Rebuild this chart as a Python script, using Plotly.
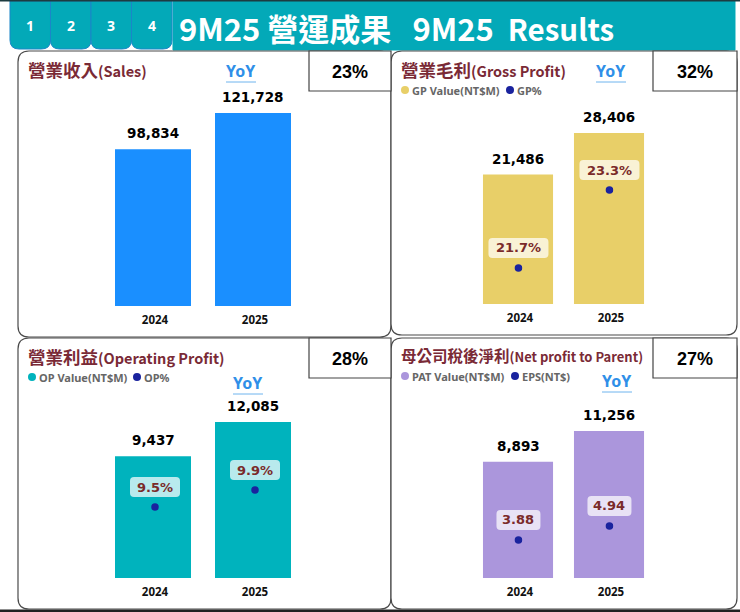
import plotly.graph_objects as go

W = 740
H = 612

years = ['2024', '2025']
sales = [98834, 121728]
gross_profit = [21486, 28406]
op_profit = [9437, 12085]
net_profit = [8893, 11256]
gp_pct = [21.7, 23.3]
op_pct = [9.5, 9.9]
eps = [3.88, 4.94]
gp_labels = ['21.7%', '23.3%']
op_labels = ['9.5%', '9.9%']
eps_labels = ['3.88', '4.94']
tabs = ['1', '2', '3', '4']
header = '9M25 營運成果&nbsp;&nbsp;&nbsp;9M25&nbsp; <span style="font-size:29.5px">Results</span>'
yoy_values = ['23%', '32%', '28%', '27%']

CJK = 'Noto Sans CJK TC'
WIDE = 'DejaVu Sans'
TEAL = '#03A9B8'
MAROON = '#7A2A36'
DOT = '#1A239E'


def px(x):
    return x / W


def py(y):
    return 1 - y / H


def plate(hw):
    # label plate, pixels around the dot
    a = hw - 4
    return (f'M{-a},10 L{a},10 Q{hw},10 {hw},14 L{hw},26 Q{hw},30 {a},30 '
            f'L{-a},30 Q{-hw},30 {-hw},26 L{-hw},14 Q{-hw},10 {-a},10 Z')


def rrect(x0, y0, x1, y1, tl=0, tr=0, br=0, bl=0):
    # rounded rect path in paper coords, arguments in window pixels
    def p(x, y):
        return f'{px(x):.5f},{py(y):.5f}'
    s = 'M' + p(x0 + tl, y0) + ' L' + p(x1 - tr, y0)
    if tr:
        s += ' Q' + p(x1, y0) + ' ' + p(x1, y0 + tr)
    s += ' L' + p(x1, y1 - br)
    if br:
        s += ' Q' + p(x1, y1) + ' ' + p(x1 - br, y1)
    s += ' L' + p(x0 + bl, y1)
    if bl:
        s += ' Q' + p(x0, y1) + ' ' + p(x0, y1 - bl)
    s += ' L' + p(x0, y0 + tl)
    if tl:
        s += ' Q' + p(x0, y0) + ' ' + p(x0 + tl, y0)
    return s + ' Z'


def box(path, fill, line, width=1, layer='below'):
    return dict(type='path', path=path, xref='paper', yref='paper', fillcolor=fill,
                line=dict(color=line, width=width), layer=layer)


def label(x, y, text, size, color, family=CJK, xanchor='center'):
    return dict(x=px(x), y=py(y), xref='paper', yref='paper', text=text, showarrow=False,
                font=dict(size=size, color=color, family=family), xanchor=xanchor, yanchor='middle',
                borderpad=0, align='left')


shapes = []
annots = []

# header + tabs
shapes.append(box(rrect(173, 1, 735, 50), TEAL, TEAL))
shapes.append(dict(type='rect', xref='paper', yref='paper', x0=0, x1=1, y0=py(1.5), y1=1,
                   fillcolor='#1d3b40', line_width=0))
for i, x0 in enumerate([10, 50.5, 91, 131.5]):
    shapes.append(box(rrect(x0, 1, x0 + 40.5, 49, 0, 0, 9, 9), TEAL, '#1c86c8'))
    annots.append(label(x0 + 20, 26, '<b>' + tabs[i] + '</b>', 14, 'white', 'Noto Sans'))
annots.append(label(178, 28, '<b>' + header + '</b>', 31, 'white', xanchor='left'))

# panel frames
shapes.append(box(rrect(18, 51, 391, 337, 11, 11, 11, 11), 'white', '#4a4a4a', 1.2))
shapes.append(box(rrect(391, 51, 737, 335, 11, 11, 11, 11), 'white', '#4a4a4a', 1.2))
shapes.append(box(rrect(18, 338, 391, 609, 11, 11, 11, 11), 'white', '#4a4a4a', 1.2))
shapes.append(box(rrect(391, 338, 737, 609, 11, 11, 11, 11), 'white', '#4a4a4a', 1.2))
shapes.append(dict(type='rect', xref='paper', yref='paper', x0=0, x1=1, y0=0, y1=py(609.5),
                   fillcolor='#222222', line_width=0))

panels = [
    dict(title='營業收入', en='(Sales)', size=17.5, en_size=14.5, tx=27, ty=69,
         values=sales, color='#1A8FFF', ymax=133000, dom=(95, 306), xdom=(103, 303), gap=0.24,
         yoy=(241, 71), yoy_box=(309, 51, 391, 91)),
    dict(title='營業毛利', en='(Gross Profit)', size=17.5, en_size=14.5, tx=400, ty=69,
         values=gross_profit, color='#E8CF68', ymax=34700, dom=(95, 304), xdom=(472.5, 654.5), gap=0.23,
         yoy=(611, 71), yoy_box=(653, 51, 737, 91),
         legend='GP Value(NT$M)', legend2='GP%', lx=(401, 506), ly=90,
         dots=gp_pct, dot_range=(20.96, 25.25), dot_labels=gp_labels, plate_hw=30, dot_shift=0.005),
    dict(title='營業利益', en='(Operating Profit)', size=17.5, en_size=14.5, tx=27, ty=356,
         values=op_profit, color='#00B3BD', ymax=13790, dom=(400, 578), xdom=(103, 303), gap=0.24,
         yoy=(248, 383), yoy_box=(309, 338, 391, 378),
         legend='OP Value(NT$M)', legend2='OP%', lx=(28, 133), ly=377,
         dots=op_pct, dot_range=(7.83, 12.02), dot_labels=op_labels, plate_hw=25, dot_shift=0.02),
    dict(title='母公司稅後淨利', en='(Net profit to Parent)', size=15.5, en_size=13, tx=400, ty=355,
         values=net_profit, color='#AB96DC', ymax=13630, dom=(400, 578), xdom=(472.5, 654.5), gap=0.23,
         yoy=(617, 381), yoy_box=(653, 338, 737, 378),
         legend='PAT Value(NT$M)', legend2='EPS(NT$)', lx=(401, 511), ly=376,
         dots=eps, dot_range=(1.0, 14.48), dot_labels=eps_labels, plate_hw=22, dot_shift=0.005),
]

fig = go.Figure()
layout_axes = {}

for i, p in enumerate(panels):
    n = i + 1
    xname = 'x' if n == 1 else f'x{n}'
    yname = 'y' if n == 1 else f'y{n}'
    fig.add_trace(go.Bar(x=years, y=p['values'], marker=dict(color=p['color'], line_width=0),
                         width=1 - p['gap'], xaxis=xname, yaxis=yname, showlegend=False))
    layout_axes[f'xaxis{n}'] = dict(domain=[px(p['xdom'][0]), px(p['xdom'][1])], type='category',
                                    anchor=yname, range=[-0.5, 1.5], showgrid=False, showline=False,
                                    ticks='', ticklabelstandoff=5, ticklabelshift=2,
                                    tickfont=dict(size=11.5, color='#111111', family='Noto Sans', weight='bold'))
    layout_axes[f'yaxis{n}'] = dict(domain=[py(p['dom'][1]), py(p['dom'][0])], anchor=xname,
                                    range=[0, p['ymax']], visible=False)

    # value labels sit on the bars, x is the category index here
    for k, v in enumerate(p['values']):
        annots.append(dict(x=k, y=v, xref=xname, yref=yname, text=f'<b>{v:,}</b>', showarrow=False,
                           yanchor='bottom', yshift=6, font=dict(size=13.5, color='black', family=WIDE)))

    # title, yoy
    annots.append(label(p['tx'], p['ty'],
                        f'<b>{p["title"]}<span style="font-size:{p["en_size"]}px">{p["en"]}</span></b>',
                        p['size'], MAROON, xanchor='left'))
    annots.append(label(p['yoy'][0], p['yoy'][1], '<b>YoY</b>', 16, '#2F8FE8', 'Noto Sans'))
    shapes.append(dict(type='line', xref='paper', yref='paper',
                       x0=px(p['yoy'][0] - 15), x1=px(p['yoy'][0] + 15),
                       y0=py(p['yoy'][1] + 11), y1=py(p['yoy'][1] + 11),
                       line=dict(color='#6FB4EE', width=1)))
    bx0, by0, bx1, by1 = p['yoy_box']
    shapes.append(box(rrect(bx0, by0, bx1, by1), 'white', '#444444', 1.2))
    annots.append(label((bx0 + bx1) / 2, (by0 + by1) / 2 + 1, '<b>' + yoy_values[i] + '</b>', 18, 'black',
                        'Liberation Sans Narrow, Liberation Sans'))

    if 'dots' in p:
        x2 = f'x{n + 4}'
        y2 = f'y{n + 4}'
        s = p['dot_shift']
        # dots sit slightly off the bar centres in the source, so they get their own x axis
        fig.add_trace(go.Scatter(x=years, y=p['dots'], mode='markers', xaxis=x2, yaxis=y2,
                                 marker=dict(color=DOT, size=7.5), showlegend=False))
        layout_axes[f'xaxis{n + 4}'] = dict(domain=[px(p['xdom'][0]), px(p['xdom'][1])], type='category',
                                            anchor=y2, range=[-0.5 - s, 1.5 - s], visible=False, overlaying=xname)
        layout_axes[f'yaxis{n + 4}'] = dict(domain=[py(p['dom'][1]), py(p['dom'][0])], anchor=x2,
                                            range=list(p['dot_range']), visible=False, overlaying=yname)
        for k, (v, t) in enumerate(zip(p['dots'], p['dot_labels'])):
            shapes.append(dict(type='path', xref=x2, yref=y2, xsizemode='pixel', ysizemode='pixel',
                               xanchor=k, yanchor=v, path=plate(p['plate_hw']),
                               fillcolor='rgba(255,255,255,0.72)', line_width=0, layer='above'))
            annots.append(dict(x=k, y=v, xref=x2, yref=y2, text=f'<b>{t}</b>', showarrow=False,
                               yanchor='middle', yshift=20, font=dict(size=13, color='#7A2A2A', family=WIDE)))
        # hand drawn legend, same as the source
        shapes.append(dict(type='circle', xref='paper', yref='paper', x0=px(p['lx'][0]), x1=px(p['lx'][0] + 8),
                           y0=py(p['ly'] + 4), y1=py(p['ly'] - 4), fillcolor=p['color'], line_width=0))
        shapes.append(dict(type='circle', xref='paper', yref='paper', x0=px(p['lx'][1]), x1=px(p['lx'][1] + 8),
                           y0=py(p['ly'] + 4), y1=py(p['ly'] - 4), fillcolor=DOT, line_width=0))
        annots.append(label(p['lx'][0] + 10, p['ly'], '<b>' + p['legend'] + '</b>', 11, '#666666', 'Noto Sans', 'left'))
        annots.append(label(p['lx'][1] + 10, p['ly'], '<b>' + p['legend2'] + '</b>', 11, '#666666', 'Noto Sans', 'left'))

fig.update_layout(width=W, height=H, margin=dict(l=0, r=0, t=0, b=0, pad=0), paper_bgcolor='white',
                  plot_bgcolor='rgba(0,0,0,0)', shapes=shapes, annotations=annots, showlegend=False,
                  **layout_axes)

fig.write_html('out.html', config={'displayModeBar': False}, post_script="document.body.style.margin='0';")
